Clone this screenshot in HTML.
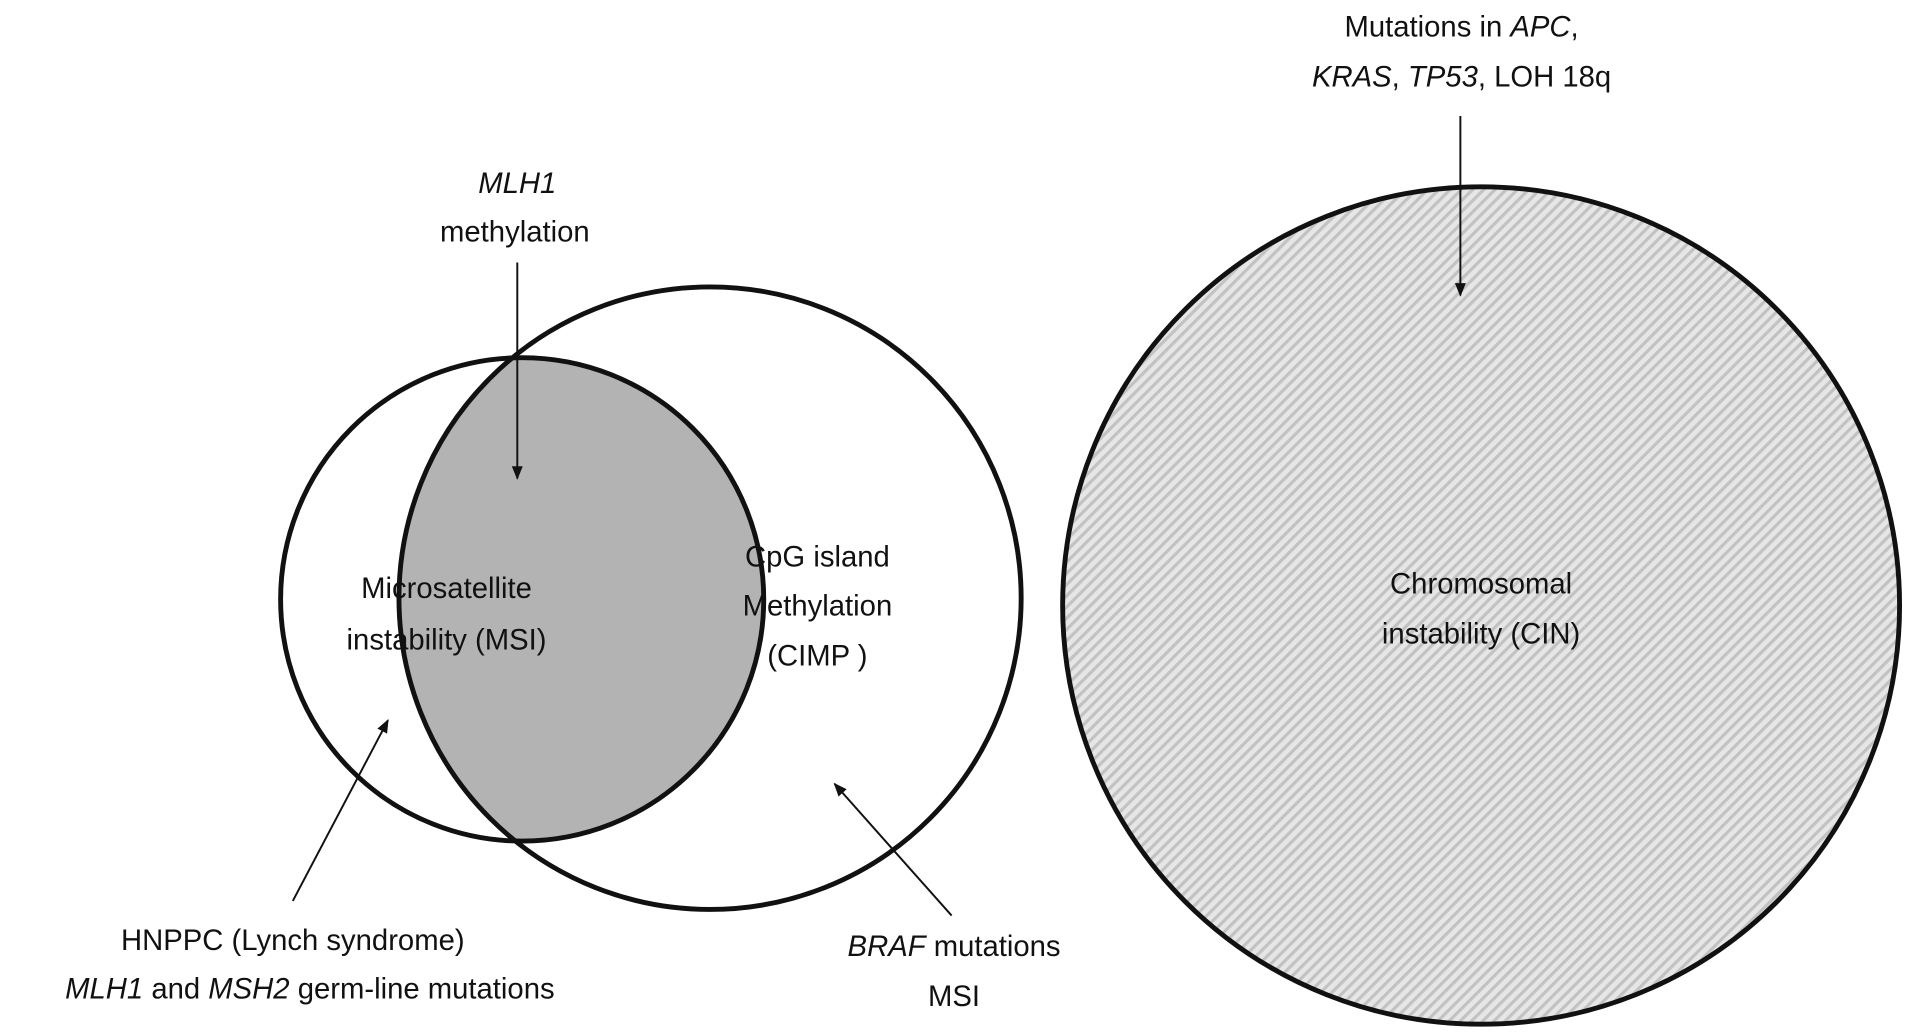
<!DOCTYPE html>
<html><head><meta charset="utf-8"><style>html,body{margin:0;padding:0;background:#fff}svg{display:block}</style></head>
<body>
<svg width="1913" height="1034" viewBox="0 0 1568 847" preserveAspectRatio="none" xmlns="http://www.w3.org/2000/svg" font-family="Liberation Sans, Arial, sans-serif" font-size="24" fill="#111">
<defs>
<pattern id="h" width="6.5" height="6.5" patternUnits="userSpaceOnUse" patternTransform="rotate(-45)">
<rect width="6.5" height="6.5" fill="#e6e6e6"/>
<rect width="6.5" height="2.6" fill="#c2c2c2"/>
</pattern>
<clipPath id="c1"><circle cx="428" cy="491" r="198"/></clipPath>
<marker id="a" viewBox="0 0 10 10" refX="9" refY="5" markerWidth="7" markerHeight="7" orient="auto"><path d="M0,1 L10,5 L0,9 z" fill="#111"/></marker>
</defs>
<circle cx="582" cy="490" r="255" fill="#b3b3b3" clip-path="url(#c1)"/>
<circle cx="428" cy="491" r="198" fill="none" stroke="#111" stroke-width="4"/>
<circle cx="582" cy="490" r="255" fill="none" stroke="#111" stroke-width="4"/>
<circle cx="1214" cy="496" r="343" fill="url(#h)" stroke="#111" stroke-width="4"/>
<g stroke="#111" stroke-width="1.6" marker-end="url(#a)">
<line x1="424" y1="215" x2="424" y2="392"/>
<line x1="1197" y1="95" x2="1197" y2="242"/>
<line x1="240" y1="738" x2="318" y2="590"/>
<line x1="780" y1="750" x2="684" y2="642"/>
</g>
<g text-anchor="middle">
<text x="424" y="158" font-style="italic">MLH1</text>
<text x="422" y="198">methylation</text>
<text x="366" y="490">Microsatellite</text>
<text x="366" y="532">instability (MSI)</text>
<text x="670" y="464">CpG island</text>
<text x="670" y="504">Methylation</text>
<text x="670" y="545">(CIMP )</text>
<text x="1214" y="486">Chromosomal</text>
<text x="1214" y="527">instability (CIN)</text>
<text x="1198" y="30">Mutations in <tspan font-style="italic">APC</tspan>,</text>
<text x="1198" y="71"><tspan font-style="italic">KRAS</tspan>, <tspan font-style="italic">TP53</tspan>, LOH 18q</text>
<text x="240" y="778">HNPPC (Lynch syndrome)</text>
<text x="254" y="818"><tspan font-style="italic">MLH1</tspan> and <tspan font-style="italic">MSH2</tspan> germ-line mutations</text>
<text x="782" y="783"><tspan font-style="italic">BRAF</tspan> mutations</text>
<text x="782" y="824">MSI</text>
</g>
</svg>
</body></html>
